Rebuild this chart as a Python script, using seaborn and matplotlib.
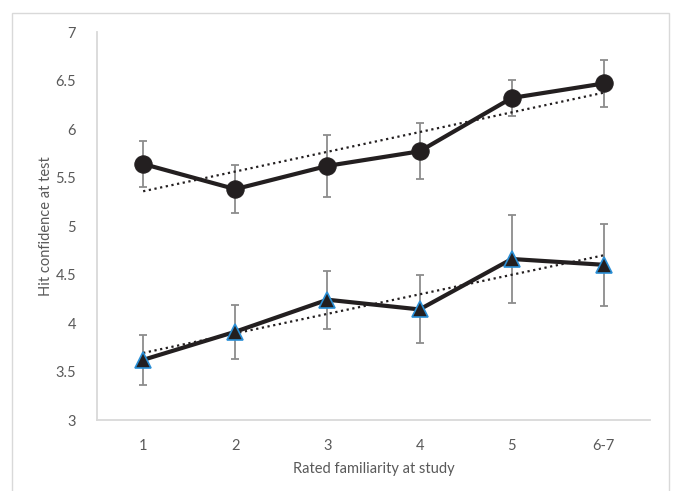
import numpy as np
import pandas as pd
import seaborn as sns
import matplotlib.pyplot as plt
from matplotlib.patches import Rectangle

# Values
categories = ['1', '2', '3', '4', '5', '6-7']
circle_means = [5.64, 5.38, 5.62, 5.77, 6.32, 6.47]
circle_err = [0.24, 0.25, 0.32, 0.29, 0.19, 0.24]
triangle_means = [3.62, 3.91, 4.24, 4.14, 4.66, 4.60]
triangle_err = [0.26, 0.28, 0.30, 0.35, 0.45, 0.42]
y_ticks = [3, 3.5, 4, 4.5, 5, 5.5, 6, 6.5, 7]


def main():
    pos = np.arange(len(categories))
    df = pd.DataFrame({'pos': pos, 'circle': circle_means, 'triangle': triangle_means})

    sns.set_style('white')
    plt.rcParams['font.family'] = ['Lato', 'DejaVu Sans']

    fig = plt.figure(figsize=(6.74, 4.91), dpi=100)
    ax = fig.add_axes([0.144, 0.1446, 0.8204, 0.7902])

    # outer chart frame
    fig.patches.append(Rectangle((12.5 / 674, -0.05), (669 - 12.5) / 674, 1.05 - 13 / 491,
                                 transform=fig.transFigure, fill=False,
                                 edgecolor='#d9d9d9', linewidth=1.0))

    dark = '#231f20'
    err_col = '#8c8c8c'

    for col, err in [('circle', circle_err), ('triangle', triangle_err)]:
        ax.errorbar(df['pos'], df[col], yerr=err, fmt='none', ecolor=err_col,
                    elinewidth=1.3, capsize=3, capthick=1.3, zorder=2)
        # linear trendline (dotted)
        sns.regplot(data=df, x='pos', y=col, ax=ax, scatter=False, ci=None, truncate=True,
                    line_kws=dict(color=dark, linestyle=(0, (1, 1.6)), linewidth=1.6, zorder=3))

    sns.lineplot(data=df, x='pos', y='circle', ax=ax, color=dark, linewidth=3,
                 marker='o', markersize=12.5, markerfacecolor=dark, markeredgecolor=dark,
                 zorder=4)
    sns.lineplot(data=df, x='pos', y='triangle', ax=ax, color=dark, linewidth=3,
                 marker='^', markersize=11.5, markerfacecolor=dark, markeredgecolor='#2a8fd6',
                 markeredgewidth=1.2, zorder=4)

    ax.set_xlim(-0.5, len(categories) - 0.5)
    ax.set_ylim(3, 7)
    ax.set_xticks(pos)
    ax.set_xticklabels(categories)
    ax.set_yticks(y_ticks)
    ax.set_yticklabels([f'{t:g}' for t in y_ticks])

    text_col = '#595959'
    ax.tick_params(axis='both', length=0, labelsize=10.5, colors=text_col)
    ax.tick_params(axis='y', pad=15)
    ax.tick_params(axis='x', pad=14)
    ax.set_xlabel('Rated familiarity at study', fontsize=10.5, color=text_col, labelpad=6)
    ax.set_ylabel('Hit confidence at test', fontsize=10.5, color=text_col, labelpad=2)

    for side in ['top', 'right']:
        ax.spines[side].set_visible(False)
    for side in ['left', 'bottom']:
        ax.spines[side].set_color('#d9d9d9')
        ax.spines[side].set_linewidth(1.3)

    fig.savefig('out.png', dpi=100)
    plt.close(fig)


if __name__ == "__main__":
    main()
